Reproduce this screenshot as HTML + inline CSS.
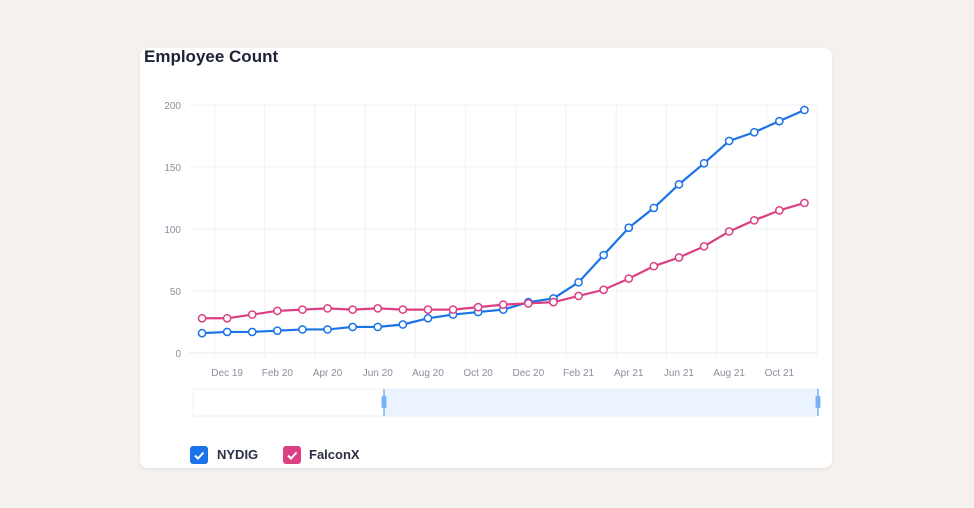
<!DOCTYPE html>
<html><head><meta charset="utf-8"><style>
body{margin:0;width:974px;height:508px;background:#f5f1ee;font-family:"Liberation Sans",sans-serif;position:relative;overflow:hidden}
.card{position:absolute;left:140px;top:48px;width:692px;height:420px;background:#fff;border-radius:8px;box-shadow:0 1px 3px rgba(0,0,0,.08)}
.title{position:absolute;left:144px;top:47px;font-size:17px;font-weight:bold;color:#1e2236}
.cb{position:absolute;top:446px;width:18px;height:18px;border-radius:3px}
.lg{position:absolute;top:447px;font-size:13px;font-weight:bold;color:#2a2f45}
</style></head><body>
<div class="card"></div>
<div class="title">Employee Count</div>
<svg width="974" height="508" style="position:absolute;left:0;top:0" id="chart"></svg>
<div class="cb" style="left:190px;background:#1a73e8"><svg width="18" height="18"><path d="M5 9.5l3 3 5.5-6" stroke="#fff" stroke-width="2" fill="none"/></svg></div>
<div class="lg" style="left:217px">NYDIG</div>
<div class="cb" style="left:283px;background:#dc3f84"><svg width="18" height="18"><path d="M5 9.5l3 3 5.5-6" stroke="#fff" stroke-width="2" fill="none"/></svg></div>
<div class="lg" style="left:309px">FalconX</div>
<script>
const categories=["Nov 19","Dec 19","Jan 20","Feb 20","Mar 20","Apr 20","May 20","Jun 20","Jul 20","Aug 20","Sep 20","Oct 20","Nov 20","Dec 20","Jan 21","Feb 21","Mar 21","Apr 21","May 21","Jun 21","Jul 21","Aug 21","Sep 21","Oct 21","Nov 21"];
const nydig=[16,17,17,18,19,19,21,21,23,28,31,33,35,41,44,57,79,101,117,136,153,171,178,187,196];
const falconx=[28,28,31,34,35,36,35,36,35,35,35,37,39,40,41,46,51,60,70,77,86,98,107,115,121];
const yTicks=[0,50,100,150,200];
const xLabels=["Dec 19","Feb 20","Apr 20","Jun 20","Aug 20","Oct 20","Dec 20","Feb 21","Apr 21","Jun 21","Aug 21","Oct 21"];
const NS="http://www.w3.org/2000/svg",svg=document.getElementById('chart');
const L=189.5,R=817,T=105,B=353,bw=(R-L)/categories.length;
const x=i=>L+bw*(i+0.5), y=v=>B-(v/200)*(B-T);
function mk(t,a){const e=document.createElementNS(NS,t);for(const k in a)e.setAttribute(k,a[k]);svg.appendChild(e);return e;}
yTicks.forEach(v=>{const g=mk('line',{x1:L-40+40,x2:R,y1:y(v),y2:y(v),stroke:v==0?'#e6e8ee':'#f0f1f4'});

const t=mk('text',{x:181,y:y(v)+4,'text-anchor':'end','font-size':10,fill:'#8a8f9c'});t.textContent=v;
});
for(let i=1;i<=categories.length;i+=2){const g=mk('line',{x1:L+bw*i,x2:L+bw*i,y1:T,y2:B+5,stroke:'#f0f1f4'});
}
xLabels.forEach(lb=>{const i=categories.indexOf(lb);const t=mk('text',{x:x(i),y:376,'text-anchor':'middle','font-size':10,fill:'#8a8f9c'});t.textContent=lb;
});
[[nydig,'#1a73e8','nydig'],[falconx,'#dc3f84','falconx']].forEach(([d,c,n])=>{
const p=mk('polyline',{points:d.map((v,i)=>x(i)+','+y(v)).join(' '),fill:'none',stroke:c,'stroke-width':2.2});

d.forEach((v,i)=>{const m=mk('circle',{cx:x(i),cy:y(v),r:3.6,fill:'#fff',stroke:c,'stroke-width':1.5});
});});
const sb=mk('rect',{x:193,y:389,width:625,height:27,fill:'#fff',stroke:'#eef0f3'});

const sel=mk('rect',{x:384,y:389,width:434,height:27,fill:'#eaf3fe'});

[384,818].forEach(hx=>{const l=mk('line',{x1:hx,x2:hx,y1:389,y2:416,stroke:'#7ab3f5','stroke-width':1.5});

const h=mk('rect',{x:hx-2.5,y:396,width:5,height:12,rx:1.5,fill:'#7ab3f5'});
});
</script>
</body></html>
